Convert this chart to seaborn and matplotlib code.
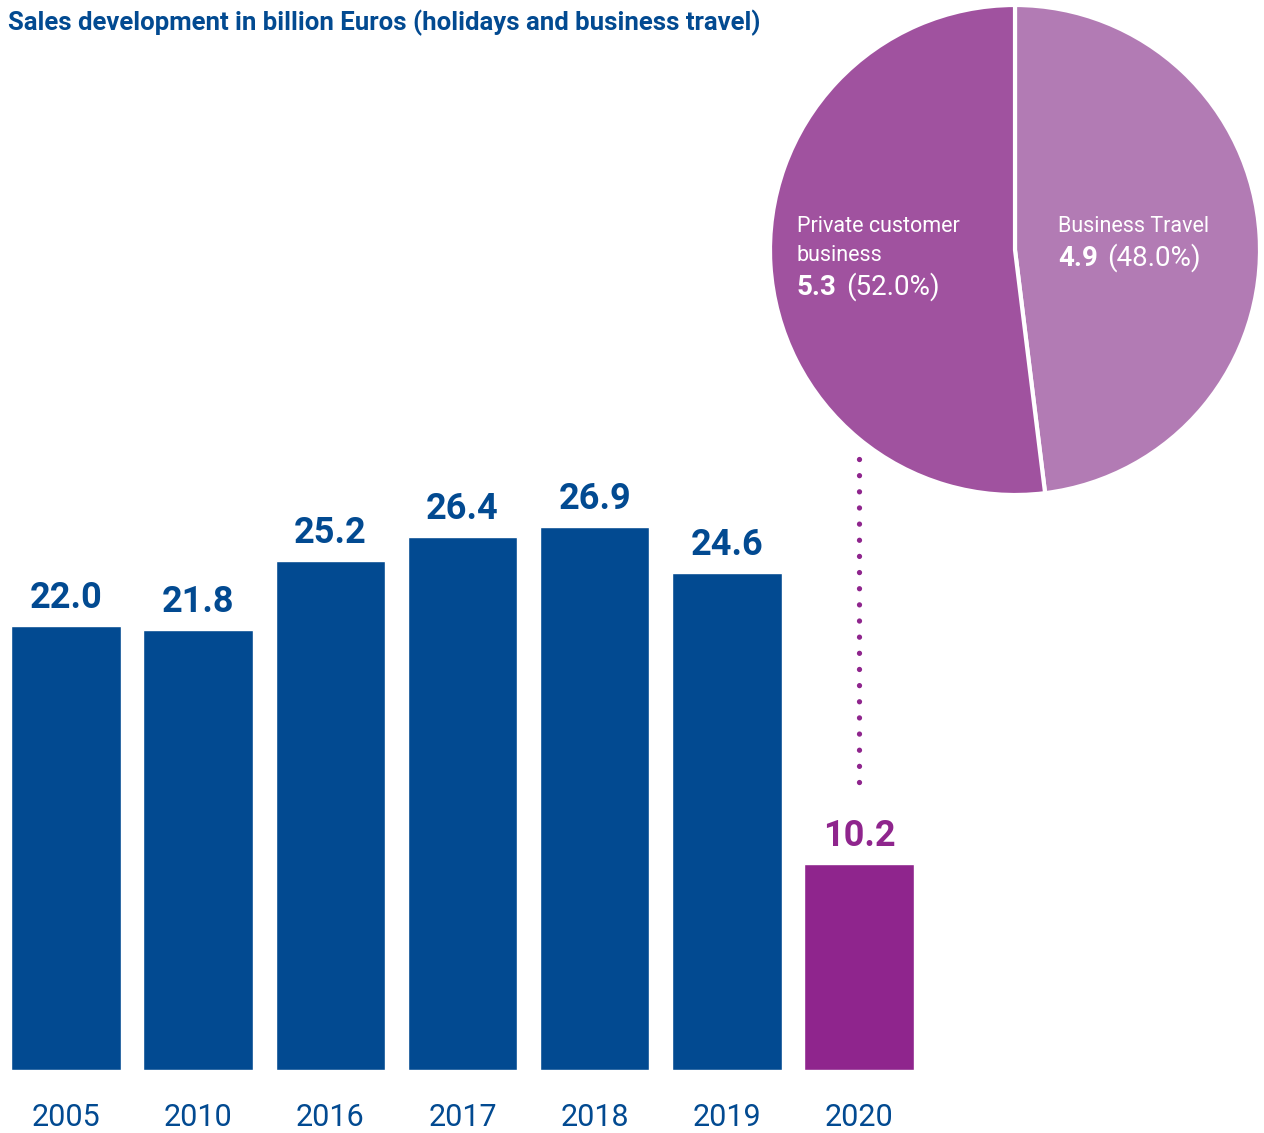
import matplotlib
matplotlib.use("Agg")
import matplotlib.pyplot as plt
import seaborn as sns
from matplotlib.lines import Line2D
from matplotlib.transforms import blended_transform_factory

# Sales in billion euros per year
years = ["2005", "2010", "2016", "2017", "2018", "2019", "2020"]
sales = [22.0, 21.8, 25.2, 26.4, 26.9, 24.6, 10.2]

# Split of the 2020 sales
segments = ["Business Travel", "Private customer\nbusiness"]
segment_values = [4.9, 5.3]
segment_shares = [48.0, 52.0]

title = "Sales development in billion Euros (holidays and business travel)"

BLUE = "#024A91"
PURPLE = "#8F258D"
PIE_DARK = "#A0529F"
PIE_LIGHT = "#B27BB4"

sns.set_theme(style="white")
plt.rcParams["font.family"] = ["Roboto", "DejaVu Sans"]

W, H = 1264, 1133
fig = plt.figure(figsize=(W / 100, H / 100), dpi=100)

# ---- bar chart ----
ax = fig.add_axes([0 / W, (H - 1070) / H, 925 / W, 606 / H])
bar_colors = [BLUE] * (len(years) - 1) + [PURPLE]
sns.barplot(x=years, y=sales, hue=years, palette=bar_colors, width=0.83,
            legend=False, saturation=1, ax=ax)
ax.set_xlim(-0.5, len(years) - 0.5)
ax.set_ylim(0, 30)
sns.despine(ax=ax, left=True, bottom=True)
ax.set_yticks([])
ax.set_xlabel("")
ax.set_ylabel("")
ax.tick_params(axis="x", length=0, pad=24, labelsize=22, labelcolor=BLUE)

for i, (v, c) in enumerate(zip(sales, bar_colors)):
    ax.annotate(f"{v:.1f}", xy=(i, v), xytext=(0, 13), textcoords="offset points",
                ha="center", va="baseline", fontsize=26, fontweight="bold", color=c)

# ---- title ----
fig.text(8 / W, 1 - 30 / H, title, ha="left", va="baseline", fontsize=18.5,
         fontweight="bold", color=BLUE)

# ---- pie of the 2020 split ----
pax = fig.add_axes([770 / W, (H - 495) / H, 490 / W, 490 / H])
pax.pie(segment_values, colors=[PIE_LIGHT, PIE_DARK], startangle=90,
        counterclock=False, radius=1,
        wedgeprops=dict(edgecolor="white", linewidth=3))
pax.set_xlim(-1.0, 1.0)
pax.set_ylim(-1.0, 1.0)
pax.set_aspect("equal")
pax.axis("off")

fig.canvas.draw()
renderer = fig.canvas.get_renderer()


def label_block(x_px, y_first_px, name, value, share, line_px):
    lines = name.split("\n")
    for k, ln in enumerate(lines):
        fig.text(x_px / W, 1 - (y_first_px + k * line_px) / H, ln, ha="left",
                 va="baseline", fontsize=15.5, color="white")
    yb = y_first_px + (len(lines) - 1) * line_px + 34
    t = fig.text(x_px / W, 1 - yb / H, f"{value:.1f}", ha="left", va="baseline",
                 fontsize=20, fontweight="bold", color="white")
    bb = t.get_window_extent(renderer)
    fig.text((bb.x1 + 9) / W, 1 - yb / H, f"({share:.1f}%)", ha="left",
             va="baseline", fontsize=20, color="white")


label_block(1058, 232, segments[0], segment_values[0], segment_shares[0], 29)
label_block(797, 232, segments[1], segment_values[1], segment_shares[1], 29)

# ---- dotted connector from the pie down to the 2020 bar ----
trans = blended_transform_factory(ax.transData, fig.transFigure)
fig.add_artist(Line2D([len(years) - 1, len(years) - 1], [1 - 459 / H, 1 - 790 / H],
                      transform=trans, color=PURPLE, linewidth=3.8,
                      linestyle=(0, (0.01, 3.05)), dash_capstyle="round"))

fig.savefig("out.png", dpi=100)
